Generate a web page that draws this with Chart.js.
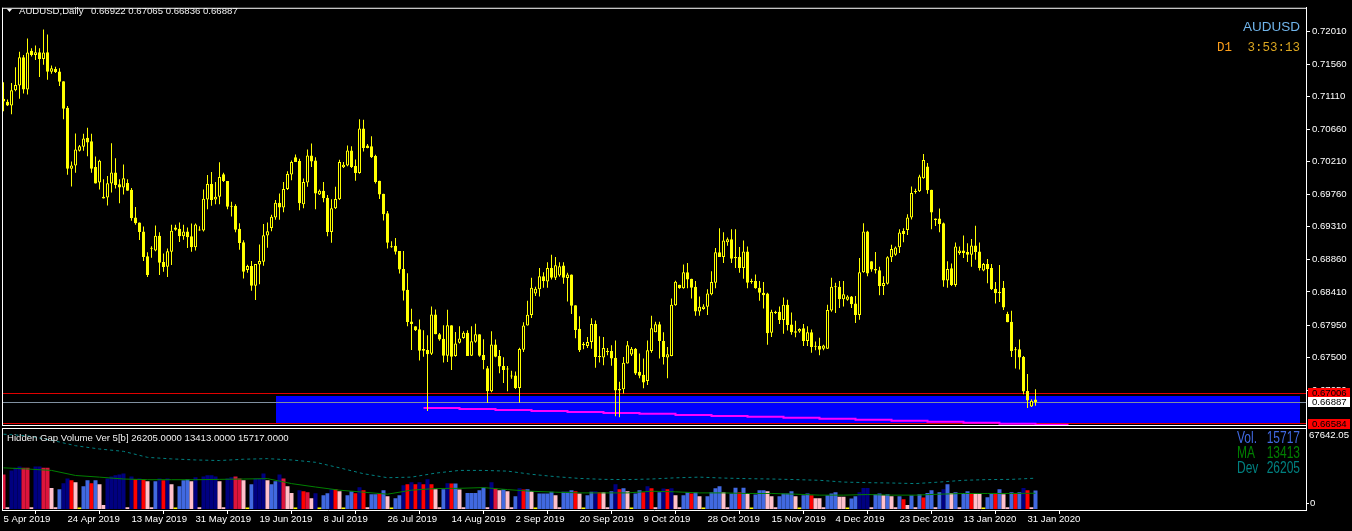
<!DOCTYPE html>
<html>
<head>
<meta charset="utf-8">
<script src="https://cdn.jsdelivr.net/npm/chart.js@4.4.1/dist/chart.umd.min.js"></script>
<style>
  html, body { margin: 0; padding: 0; background: #000; }
  canvas { display: block; }
</style>
</head>
<body>
<canvas id="chart" width="1352" height="531"></canvas>
<script>
// AUDUSD daily, bar 0 = 5 Apr 2019 ... bar 258 = 3 Feb 2020 (broker has Sunday bars)
const opens = [
  .71079,.71038,.70988,.71198,.71262,.71654,.71207,.71745,.71686,.71722,
  .71631,.71722,.71453,.71490,.71458,.71321,.70956,.70113,.70158,.70363,
  .70418,.70541,.70491,.70135,.69921,.69725,.69716,.69907,.70062,.69898,
  .69853,.69917,.69821,.69438,.69369,.69246,.68904,.69005,.68982,.69187,
  .68822,.68758,.68964,.69301,.69283,.69178,.69246,.69178,.69027,.69260,
  .69260,.69689,.69903,.69689,.69725,.70035,.69944,.69602,.69602,.69283,
  .69096,.68713,.68767,.68494,.68790,.68828,.69188,.69293,.69439,.69644,
  .69576,.69831,.70032,.70273,.70219,.69621,.69922,.70296,.70228,.69758,
  .69808,.69713,.69238,.69567,.69690,.70132,.70159,.70365,.70150,.70054,
  .70670,.70433,.70424,.70287,.69945,.69767,.69498,.69042,.69047,.68974,
  .68727,.68440,.68002,.67934,.67893,.67619,.67606,.67556,.68098,.67825,
  .67761,.67528,.67948,.67524,.67706,.67774,.67847,.67528,.67720,.67825,
  .67537,.67355,.67036,.67683,.67524,.67387,.67341,.67255,.67255,.67081,
  .67612,.67944,.68090,.68387,.68446,.68628,.68555,.68742,.68606,.68638,
  .68774,.68601,.68651,.68227,.67899,.67694,.67662,.67716,.67967,.67525,
  .67502,.67593,.67593,.67498,.67069,.67064,.67420,.67543,.67625,.67306,
  .67265,.67178,.67593,.67853,.67963,.67730,.67502,.67525,.68227,.68510,
  .68460,.68683,.68592,.68482,.68140,.68172,.68204,.68378,.68537,.68957,
  .68893,.69098,.69139,.68893,.68893,.68742,.68970,.68560,.68560,.68469,
  .68400,.68387,.67844,.68136,.68136,.68022,.68231,.67958,.67867,.67862,
  .67908,.67730,.67853,.67661,.67661,.67625,.67625,.68154,.68473,.68482,
  .68309,.68300,.68345,.68250,.68090,.68683,.69244,.68833,.68728,.68710,
  .68491,.68523,.68888,.68924,.69029,.69253,.69266,.69440,.69791,.69800,
  .69982,.70142,.69823,.69426,.69426,.69358,.68569,.68737,.68505,.68947,
  .68984,.68961,.68924,.69052,.68970,.68705,.68797,.68742,.68455,.68409,
  .68468,.68104,.67999,.67616,.67616,.67511,.67041,.66827,.66922
];
const highs = [
  .71307,.71070,.71298,.71517,.71731,.71686,.71914,.71777,.71818,.71777,
  .72037,.71969,.71540,.71522,.71503,.71321,.70979,.70213,.70601,.70441,
  .70596,.70678,.70596,.70281,.70236,.69967,.70012,.70464,.70259,.69967,
  .70172,.69967,.69848,.69584,.69369,.69315,.68959,.69041,.69328,.69233,
  .68941,.69009,.69337,.69337,.69369,.69337,.69301,.69356,.69356,.69319,
  .69825,.70026,.70067,.69930,.70204,.70058,.69944,.69657,.69620,.69360,
  .69123,.68786,.68836,.68795,.69064,.69348,.69371,.69475,.69681,.69772,
  .69931,.70077,.70228,.70310,.70251,.69977,.70378,.70460,.70273,.69827,
  .69931,.69749,.69690,.69863,.70237,.70205,.70433,.70424,.70241,.70798,
  .70789,.70456,.70561,.70305,.69945,.69767,.69530,.69111,.69156,.68974,
  .68974,.68668,.68176,.67934,.68030,.67879,.67811,.68208,.68167,.67843,
  .67948,.68162,.67948,.67857,.67934,.67866,.67879,.67934,.67971,.67825,
  .67756,.67387,.67866,.67752,.67606,.67505,.67387,.67319,.67309,.67638,
  .67990,.68286,.68606,.68482,.68742,.68683,.68820,.68925,.68893,.68820,
  .68820,.68674,.68651,.68227,.68072,.67716,.67785,.68045,.68013,.67798,
  .67785,.67634,.67671,.67739,.67169,.67511,.67730,.67648,.67634,.67557,
  .67488,.67739,.68081,.67999,.67999,.67853,.67648,.68318,.68565,.68510,
  .68788,.68811,.68592,.68560,.68346,.68241,.68446,.68697,.69016,.69290,
  .69235,.69162,.69276,.69276,.69030,.69121,.69039,.68592,.68651,.68560,
  .68546,.68400,.68163,.68150,.68209,.68332,.68300,.68126,.68012,.67908,
  .67967,.67935,.67889,.67725,.67775,.67680,.68231,.68605,.68537,.68560,
  .68560,.68364,.68354,.68354,.68879,.69358,.69257,.68833,.68961,.68756,
  .68628,.68902,.69061,.69038,.69276,.69289,.69485,.69868,.69836,.70028,
  .70315,.70192,.69823,.69426,.69563,.69371,.68833,.68801,.69093,.69038,
  .69189,.69084,.69143,.69326,.69093,.68810,.68865,.68797,.68546,.68783,
  .68560,.68136,.68149,.67648,.67753,.67525,.67274,.66927,.67065
];
const lows = [
  .70906,.70979,.70865,.71184,.71079,.71152,.71139,.71663,.71617,.71380,
  .71549,.71344,.71426,.71435,.71257,.70797,.70031,.69866,.70058,.70350,
  .70363,.70286,.70058,.69907,.69825,.69702,.69606,.69784,.69839,.69634,
  .69757,.69807,.69392,.69337,.69128,.68836,.68617,.68881,.68973,.68644,
  .68690,.68617,.68781,.69255,.69100,.69132,.69018,.68964,.68982,.69255,
  .69246,.69552,.69602,.69620,.69620,.69930,.69552,.69451,.69233,.68991,
  .68594,.68676,.68425,.68298,.68517,.68773,.69019,.69247,.69407,.69407,
  .69512,.69817,.69954,.70205,.69539,.69567,.69863,.70137,.69553,.69749,
  .69649,.69179,.69088,.69557,.69681,.70123,.70146,.70123,.69945,.70045,
  .70351,.70397,.70260,.69909,.69694,.69398,.69010,.69019,.68928,.68664,
  .68290,.67934,.67606,.67870,.67460,.67515,.66762,.67537,.67825,.67733,
  .67433,.67442,.67332,.67515,.67697,.67761,.67524,.67524,.67706,.67515,
  .67341,.66876,.67022,.67505,.67287,.67150,.67036,.67209,.67068,.66876,
  .67580,.67944,.68049,.68355,.68346,.68469,.68469,.68583,.68574,.68619,
  .68524,.68277,.68104,.67771,.67580,.67616,.67634,.67625,.67361,.67434,
  .67397,.67534,.67388,.66690,.66677,.67005,.67420,.67525,.67260,.67215,
  .67078,.67124,.67570,.67853,.67488,.67406,.67215,.67520,.68218,.68455,
  .68455,.68460,.68318,.68081,.68081,.68163,.68090,.68364,.68460,.68893,
  .68811,.69048,.68811,.68742,.68674,.68592,.68460,.68524,.68455,.68286,
  .68182,.67680,.67785,.68104,.67967,.67830,.67876,.67816,.67784,.67844,
  .67661,.67661,.67570,.67602,.67534,.67602,.67625,.68136,.68117,.68186,
  .68209,.68286,.68186,.67980,.68026,.68674,.68628,.68687,.68665,.68364,
  .68368,.68514,.68824,.68911,.68947,.69098,.69198,.69412,.69768,.69791,
  .69973,.69768,.69276,.69321,.69234,.68482,.68468,.68491,.68482,.68924,
  .68879,.68824,.68756,.68856,.68705,.68696,.68528,.68437,.68250,.68272,
  .68161,.67990,.67511,.67351,.67338,.66996,.66804,.66818,.66836
];
const closes = [
  .71043,.70988,.71198,.71271,.71654,.71207,.71718,.71686,.71722,.71631,
  .71718,.71453,.71503,.71449,.71316,.70943,.70113,.70158,.70377,.70423,
  .70532,.70477,.70113,.69907,.70222,.69702,.69912,.70062,.69889,.69853,
  .69980,.69807,.69429,.69360,.69237,.68891,.68644,.69018,.69187,.68813,
  .68754,.68973,.69255,.69269,.69178,.69246,.69164,.69027,.69342,.69274,
  .69698,.69903,.69679,.69725,.69999,.69944,.69588,.69588,.69269,.69087,
  .68690,.68767,.68494,.68795,.68836,.69193,.69247,.69448,.69644,.69576,
  .69831,.70041,.70205,.70205,.69635,.69931,.70296,.70214,.69772,.69808,
  .69703,.69238,.69567,.69694,.70205,.70169,.70365,.70137,.70054,.70670,
  .70401,.70401,.70273,.69931,.69758,.69485,.69088,.69029,.68965,.68718,
  .68427,.67993,.67966,.67879,.67597,.67597,.67547,.68098,.67825,.67752,
  .67528,.67948,.67515,.67697,.67765,.67847,.67524,.67729,.67825,.67528,
  .67469,.67036,.67683,.67515,.67378,.67332,.67336,.67241,.67081,.67619,
  .67944,.68095,.68469,.68455,.68628,.68560,.68742,.68606,.68779,.68765,
  .68606,.68651,.68218,.67885,.67602,.67671,.67716,.67967,.67511,.67511,
  .67634,.67580,.67488,.67046,.67046,.67429,.67671,.67625,.67283,.67251,
  .67156,.67602,.67908,.67963,.67730,.67511,.67548,.68232,.68551,.68460,
  .68683,.68583,.68469,.68140,.68204,.68209,.68387,.68546,.68957,.68893,
  .69121,.69139,.68870,.68875,.68742,.68970,.68537,.68546,.68460,.68400,
  .68364,.67840,.68136,.68118,.68022,.68231,.67953,.67853,.67844,.67898,
  .67730,.67853,.67648,.67652,.67611,.67670,.68161,.68482,.68482,.68309,
  .68377,.68345,.68240,.68090,.68683,.69244,.68665,.68719,.68706,.68491,
  .68532,.68888,.69002,.69025,.69230,.69212,.69440,.69777,.69804,.70005,
  .70233,.69814,.69508,.69403,.69349,.68569,.68728,.68505,.69038,.68984,
  .68947,.68924,.69052,.68961,.68742,.68797,.68728,.68446,.68391,.68391,
  .68195,.67990,.67593,.67602,.67502,.67032,.66909,.66905,.66887
];

// Hidden Gap Volume: tick volume per bar and its histogram state
// N=high up, C=high down, B=up, R=down, P=low, Y=tiny
const volumes = [
  29400,1500,32800,35000,36100,35000,35000,1500,36100,36100,35000,35000,
  17900,1500,16800,21800,26000,24400,22700,1200,19300,24400,21800,24400,
  21000,3400,26000,27700,28600,29400,30200,1500,27700,25200,26000,25200,
  23500,1500,23500,26000,24400,26000,21000,1200,19300,24400,25200,23500,
  26900,1500,27700,28600,28600,27700,23500,1500,26000,26900,27700,26000,
  24400,1200,21000,26000,26000,30200,24400,21000,23500,29400,26000,19300,
  13700,1200,16000,15100,14300,9200,13400,1200,11800,13400,16800,16800,
  15100,1200,11800,15100,13400,18500,16000,1500,12600,12600,13400,16000,
  10900,1200,9200,11800,20200,21000,22700,21000,22700,21000,25200,21000,
  16800,1500,16800,21800,
  21600,21600,16500,1500,13700,13700,13700,16000,18200,1500,22700,17400,
  16000,16800,15100,1500,10900,17600,16500,16800,15100,1200,13200,13200,
  13200,14600,11800,1500,14600,14600,16000,15100,13200,1200,11800,14600,
  15100,14300,14300,1500,15100,21000,16800,17600,15100,1200,13200,16000,
  14300,19300,17600,1500,14300,17400,16800,17600,11800,1500,11800,14300,
  13200,14300,10900,1200,10900,14300,17600,19300,14300,1500,13200,18000,
  14300,18000,13200,1200,12300,16000,16000,15100,10900,1500,10900,13200,
  13200,15100,10900,1200,11800,13200,11800,9200,9200,1500,11800,13200,
  14300,10400,10400,1200,9000,10900,14300,17900,17900,1500,12600,13200,
  11800,12600,10900,1500,10900,
  8400,3400,11800,1500,12600,9800,13700,16000,1500,14300,16800,21000,
  13700,14300,1500,13700,15100,13700,13200,13200,1200,10100,13700,13700,
  16800,12600,1500,14300,13700,14300,17900,16000,1500,15717
];
const volKinds = (
  'CPNNNCCPNNCC PPBNNRPYBBRB PPNNNNNPNRNR PPBNRNPYBBBP NPNNNNPPNNCC PYBNNNPBBNCP ' +
  'PYNRCPNYBBNR PYBBRNRPBBRB PYBBNRNRNRNR PPBN ' +
  'RBPPBBBBBPNC PBPPBNRBPYBB BBPPBBBRPYBB NRPPBNRBPYBB RNRPBNRNPPBB RBPYBBBBPPBB ' +
  'RBPYBBBPPPBB BBPYBBRPPPBB BPPYBBNNNPBB PBPPB ' +
  'RPBPBRBBPBNB PBPBBRPPYBBR BPPBRBNRPB'
).replace(/ /g, '').split('');

// moving average and deviation of the volume, read every 6 bars
const lineBars = [0,6,12,18,24,30,36,42,48,54,60,66,72,78,84,90,96,102,108,114,120,126,
  132,138,144,150,156,162,168,174,180,186,192,198,204,210,216,222,228,234,240,246,252,258];
const maVals = [35000,34000,32800,28500,27100,25500,24900,24900,24900,25200,25500,25800,
  21600,18700,16000,14300,12600,16000,17400,17600,18200,16500,15100,14300,13700,13700,
  13700,15100,14600,13700,13700,13200,13200,12600,11800,11800,12300,11800,11800,12600,
  13200,13200,13200,13413];
const devVals = [63600,62200,58500,53800,51000,49000,43900,42600,41700,41200,42300,42800,
  41700,39700,35000,30000,26600,27100,30500,32800,32800,32200,29500,27500,26000,25200,
  25000,25500,26500,27100,26300,25800,25500,25000,24400,22900,22400,22100,21600,22900,
  24400,25000,25200,26205];

// gap level line (magenta steps)
const stepBars = [105,114,123,132,141,150,159,168,177,186,195,204,213,222,231,240,249,258,266.25];
const stepVals = [.66806,.66792,.66778,.66765,.66751,.66737,.66724,.66710,.66696,.66683,
  .66669,.66655,.66642,.66628,.66614,.66601,.66587,.66573,.66573];

// zone and price levels
const zoneFromBar = 68, zoneToBar = 324;
const zoneTop = 0.66970, zoneBottom = 0.66600;
const levelHigh = 0.67006, levelLow = 0.66584, bidPrice = 0.66887;

const tickBars = [0,16,32,48,64,80,96,112,128,144,160,176,192,208,224,240,256];
const tickDates = ['5 Apr 2019','24 Apr 2019','13 May 2019','31 May 2019','19 Jun 2019',
  '8 Jul 2019','26 Jul 2019','14 Aug 2019','2 Sep 2019','20 Sep 2019','9 Oct 2019',
  '28 Oct 2019','15 Nov 2019','4 Dec 2019','23 Dec 2019','13 Jan 2020','31 Jan 2020'];
const priceTicks = [0.72010,0.71560,0.71110,0.70660,0.70210,0.69760,0.69310,0.68860,
  0.68410,0.67950,0.67500,0.67050];
const volScaleMax = 67642.05;

const symbolTitle = 'AUDUSD,Daily';
const ohlcText = '0.66922 0.67065 0.66836 0.66887';
const panelTitle = 'Hidden Gap Volume Ver 5[b] 26205.0000 13413.0000 15717.0000';
const infoRows = [['Vol.', '15717'], ['MA', '13413'], ['Dev', '26205']];

//STYLE
const YEL = '#ffff00';
const FONT = '"Liberation Sans", Arial, sans-serif';
const SMALL = 9.6;
const kindColor = { N: '#000080', C: '#dc143c', B: '#4169e1', R: '#ff0000', P: '#ffc0cb', Y: '#ffff00' };

const bars = opens.map((o, i) => i);

function hline(ctx, area, yPix, color) {
  const yy = Math.floor(yPix) + 0.5;
  ctx.strokeStyle = color;
  ctx.lineWidth = 1;
  ctx.beginPath();
  ctx.moveTo(area.left, yy);
  ctx.lineTo(area.right, yy);
  ctx.stroke();
}

const mt4Plugin = {
  id: 'mt4',
  beforeDatasetsDraw(chart) {
    const { ctx, chartArea: a, scales: { x, y } } = chart;
    ctx.save();
    const x0 = x.getPixelForValue(zoneFromBar), x1 = x.getPixelForValue(zoneToBar);
    const y0 = y.getPixelForValue(zoneTop), y1 = y.getPixelForValue(zoneBottom);
    ctx.fillStyle = '#0000ff';
    ctx.fillRect(Math.round(x0), Math.round(y0), Math.round(x1 - x0), Math.round(y1 - y0));
    hline(ctx, a, y.getPixelForValue(levelHigh), '#e00000');
    hline(ctx, a, y.getPixelForValue(levelLow), '#e00000');
    hline(ctx, a, y.getPixelForValue(bidPrice), '#8090a0');
    ctx.restore();
  },
  afterDraw(chart) {
    const { ctx, chartArea: a, scales: { y, yv } } = chart;
    ctx.save();
    // panel frames
    const mainBottom = 425, indTop = 428;
    ctx.fillStyle = '#000';
    ctx.fillRect(a.left, mainBottom + 1, a.right - a.left, indTop - mainBottom - 1);
    ctx.fillStyle = '#fff';
    ctx.fillRect(a.left, a.top, a.right - a.left, 1);
    ctx.fillRect(a.left, a.top, 1, mainBottom - a.top + 1);
    ctx.fillRect(a.left, mainBottom, a.right - a.left, 1);
    ctx.fillRect(a.left, indTop, a.right - a.left, 1);
    ctx.fillRect(a.left, indTop, 1, a.bottom - indTop);

    // price label boxes
    ctx.font = SMALL + 'px ' + FONT;
    ctx.textBaseline = 'middle';
    ctx.textAlign = 'left';
    const box = (v, bg) => {
      const yc = Math.round(y.getPixelForValue(v));
      ctx.fillStyle = bg;
      ctx.fillRect(a.right + 2, yc - 5, 42, 10);
      ctx.fillStyle = '#000';
      ctx.fillText(v.toFixed(5), a.right + 6, yc + 0.5);
    };
    box(levelHigh, '#ff0000');
    box(bidPrice, '#ffffff');
    box(levelLow, '#ff0000');

    // volume scale labels
    ctx.fillStyle = '#fff';
    const vTop = yv.getPixelForValue(volScaleMax) + 5.5;
    const vZero = yv.getPixelForValue(0) - 6;
    ctx.fillText(volScaleMax.toFixed(2), a.right + 3, vTop);
    ctx.fillText('0', a.right + 4, vZero);
    ctx.fillRect(a.right, Math.round(vZero), 3, 1);

    // header
    ctx.beginPath();
    ctx.moveTo(7, 9); ctx.lineTo(12, 9); ctx.lineTo(9.5, 12); ctx.closePath();
    ctx.fill();
    ctx.textBaseline = 'alphabetic';
    ctx.fillStyle = '#f0f0f0';
    ctx.fillText(symbolTitle, 19, 14);
    ctx.fillText(ohlcText, 91, 14);
    ctx.fillText(panelTitle, 7, 441);

    ctx.textAlign = 'right';
    ctx.font = '13.5px ' + FONT;
    ctx.fillStyle = '#70b4ea';
    ctx.fillText('AUDUSD', 1300, 31);
    ctx.font = '12.5px "Liberation Mono", monospace';
    ctx.fillStyle = '#daa520';
    ctx.fillText('3:53:13', 1300, 51);
    ctx.textAlign = 'left';
    ctx.fillStyle = '#ff9f1a';
    ctx.fillText('D1', 1217, 51);

    // indicator info block
    const infoColors = ['#4169e1', '#008000', '#008080'];
    ctx.font = '16px ' + FONT;
    infoRows.forEach((row, k) => {
      const base = 443 + k * 15;
      ctx.fillStyle = infoColors[k];
      ctx.save(); ctx.translate(1237, base); ctx.scale(0.75, 1);
      ctx.textAlign = 'left'; ctx.fillText(row[0], 0, 0); ctx.restore();
      ctx.save(); ctx.translate(1300, base); ctx.scale(0.75, 1);
      ctx.textAlign = 'right'; ctx.fillText(row[1], 0, 0); ctx.restore();
    });
    ctx.restore();
  }
};

const ctx = document.getElementById('chart').getContext('2d');
new Chart(ctx, {
  type: 'bar',
  data: {
    datasets: [
      {
        label: 'bodies', order: 0, yAxisID: 'y', grouped: false,
        data: bars.map(i => ({ x: i, y: [opens[i], closes[i]] })),
        backgroundColor: bars.map(i => closes[i] > opens[i] ? '#000000' : YEL),
        borderColor: YEL, borderWidth: 1, borderSkipped: false,
        barThickness: 3, minBarLength: 1, inflateAmount: 0
      },
      {
        label: 'wicks', order: 1, yAxisID: 'y', grouped: false,
        data: bars.map(i => ({ x: i, y: [lows[i], highs[i]] })),
        backgroundColor: YEL, borderWidth: 0, barThickness: 1, inflateAmount: 0
      },
      {
        type: 'line', label: 'gap level', order: 2, yAxisID: 'y',
        data: stepBars.map((b, k) => ({ x: b, y: stepVals[k] })),
        borderColor: '#ff00ff', borderWidth: 2, pointRadius: 0, stepped: true
      },
      {
        type: 'line', label: 'MA', order: 3, yAxisID: 'yv',
        data: lineBars.map((b, k) => ({ x: b, y: maVals[k] })),
        borderColor: '#008000', borderWidth: 1, pointRadius: 0, tension: 0
      },
      {
        type: 'line', label: 'Dev', order: 3, yAxisID: 'yv',
        data: lineBars.map((b, k) => ({ x: b, y: devVals[k] })),
        borderColor: '#008080', borderWidth: 1, borderDash: [3, 3], pointRadius: 0, tension: 0
      },
      {
        label: 'volume', order: 4, yAxisID: 'yv', grouped: false,
        data: bars.map(i => ({ x: i, y: volumes[i] })),
        backgroundColor: bars.map(i => kindColor[volKinds[i]]),
        borderWidth: 0, barThickness: 4, inflateAmount: 0
      }
    ]
  },
  options: {
    responsive: false,
    animation: false,
    devicePixelRatio: 1,
    layout: { padding: { left: 2, top: 2, right: 0, bottom: 0 }, autoPadding: false },
    plugins: { legend: { display: false }, tooltip: { enabled: false } },
    scales: {
      x: {
        type: 'linear', min: -0.375, max: 325.625, offset: false,
        afterBuildTicks: s => { s.ticks = tickBars.map(v => ({ value: v })); },
        afterFit: s => { s.height = 21; },
        ticks: {
          autoSkip: false, maxRotation: 0, align: 'start', padding: 0, color: '#ffffff',
          font: { family: FONT, size: SMALL },
          callback: v => tickDates[tickBars.indexOf(v)]
        },
        grid: { drawOnChartArea: false, drawTicks: true, tickLength: 4, color: '#ffffff' },
        border: { display: true, color: '#ffffff' }
      },
      y: {
        position: 'right', min: 0.65395, max: 0.72338,
        afterBuildTicks: s => { s.ticks = priceTicks.map(v => ({ value: v })); },
        afterFit: s => { s.width = 46; },
        ticks: {
          color: '#ffffff', padding: 2, font: { family: FONT, size: SMALL },
          callback: v => v.toFixed(5)
        },
        grid: { drawOnChartArea: false, drawTicks: true, tickLength: 4, color: '#ffffff' },
        border: { display: true, color: '#ffffff' }
      },
      yv: { display: false, min: -840.3, max: 426013 }
    }
  },
  plugins: [mt4Plugin]
});
</script>
</body>
</html>
